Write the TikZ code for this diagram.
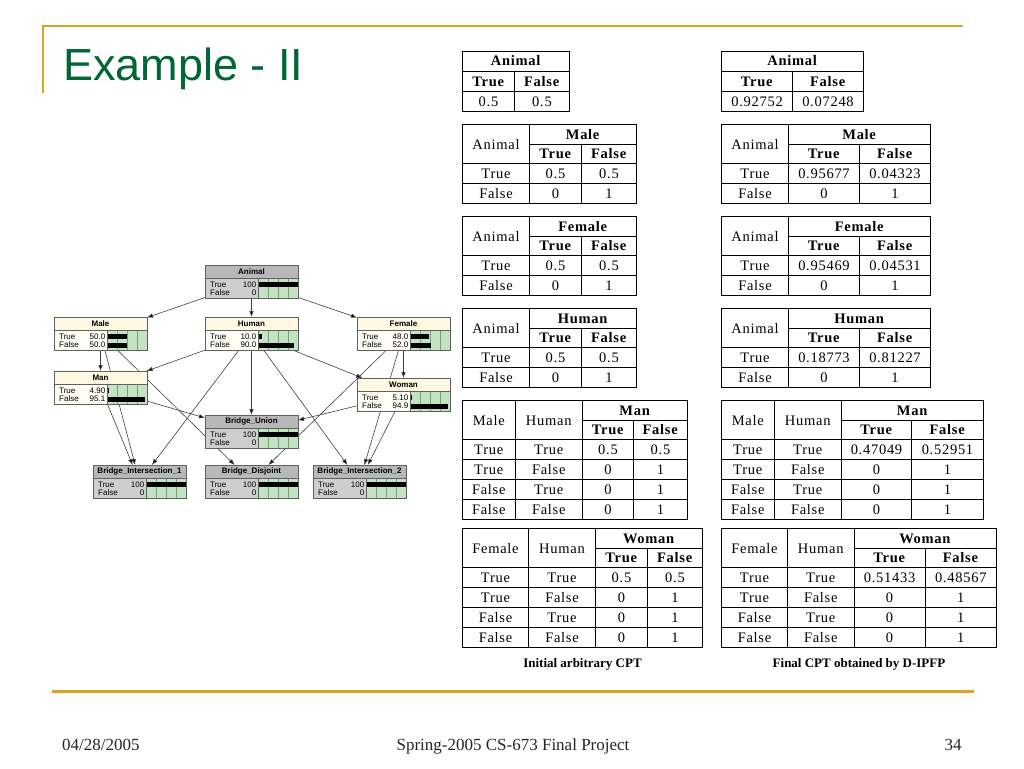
\documentclass[tikz,border=0pt]{standalone}
\usepackage{fontspec}
\setmainfont{Liberation Serif}
\setsansfont{Liberation Sans}
\newfontfamily\cptfont[LetterSpace=5]{Liberation Serif}
\usepackage{array}
\usetikzlibrary{arrows.meta,positioning,backgrounds}

\definecolor{slidegold}{RGB}{218,165,32}
\definecolor{slidegreen}{RGB}{0,102,51}
\definecolor{headev}{RGB}{184,184,184}
\definecolor{bodyev}{RGB}{206,206,206}
\definecolor{headpl}{RGB}{255,249,228}
\definecolor{bodypl}{RGB}{254,253,243}
\definecolor{cellgreen}{RGB}{196,226,196}
\definecolor{cellline}{RGB}{120,158,120}
\definecolor{bnedge}{RGB}{96,96,96}

% table rows: 19pt + rule
\setlength{\tabcolsep}{0pt}
\setlength{\arrayrulewidth}{1pt}
\newcommand{\rs}{\rule[-5pt]{0pt}{19pt}}
\newcolumntype{C}[1]{>{\rs}w{c}{#1}}
\newcommand{\tworows}[1]{\raisebox{-10pt}[0pt][0pt]{#1}}

% inside of a netica node: #1 node, #2 ev/pl, #3 title, #4 #5 values, #6 #7 bars
\newcommand{\bnparts}[7]{%
\begin{scope}[shift={(#1.north west)}]
  \fill[head#2] (0,0) rectangle (93,13);
  \fill[cellgreen] (53,13) rectangle (93,33);
  \foreach \cx in {63,73,83} \draw[cellline, line width=0.5pt] (\cx,13) -- (\cx,33);
  \fill[black] (53,16.5) rectangle ++(#6*40,5);
  \fill[black] (53,25.5) rectangle ++(#7*40,5);
  \draw[bnline] (0,13) -- (93,13) (53,13) -- (53,33) (0,0) rectangle (93,33);
  \node[bntitle] (#1-title) at (46.5,6.5) {#3};
  \node[bnstate, anchor=west] (#1-tl) at (5,19.5) {True};
  \node[bnstate, anchor=west] (#1-fl) at (5,28) {False};
  \node[bnstate, anchor=east] (#1-tv) at (51.5,19.5) {#4};
  \node[bnstate, anchor=east] (#1-fv) at (51.5,28) {#5};
\end{scope}}

\begin{document}
\begin{tikzpicture}[x=1pt,y=-1pt,>={Latex[length=6pt,width=4.5pt]},
bnbox/.style={rectangle,minimum width=93pt,minimum height=33pt,inner sep=0pt,outer sep=0pt},
bnline/.style={draw=bnedge,line width=0.6pt},
bntitle/.style={inner sep=0pt,font=\sffamily\bfseries\fontsize{8}{9}\selectfont},
bnstate/.style={inner sep=0pt,font=\sffamily\fontsize{8}{9}\selectfont},
bnarrow/.style={draw=black!75,line width=0.6pt},
cpt/.style={inner sep=0pt,outer sep=0pt,font=\cptfont\fontsize{14.5}{14.5}\selectfont},
caption/.style={inner sep=0pt,font=\bfseries\fontsize{13}{15}\selectfont},
footer/.style={inner sep=0pt,text=black!85,font=\fontsize{17}{20}\selectfont}
]
\useasboundingbox (0,0) rectangle (1024,768);

% slide frame
\draw[slidegold,line width=2pt] (963,25.7) -- (42.7,25.7) -- (42.7,93);
\draw[slidegold,line width=3pt] (52,691) -- (974,691);
\node[anchor=base west,inner sep=0pt,text=slidegreen,font=\sffamily\fontsize{45}{54}\selectfont] (title) at (63,81) {Example - II};
\node[footer,anchor=base west] (date) at (62,750) {04/28/2005};
\node[footer,anchor=base] (course) at (513,750) {Spring-2005 CS-673 Final Project};
\node[footer,anchor=base] (pageno) at (953,750) {34};

% network
\node[bnbox,fill=bodyev] (Animal) at (251.5,281.5) {};
\node[bnbox,fill=bodypl] (Human) [below=19pt of Animal] {};
\node[bnbox,fill=bodypl] (Male) [left=58pt of Human] {};
\node[bnbox,fill=bodypl] (Female) [right=59pt of Human] {};
\node[bnbox,fill=bodypl] (Man) [below=21pt of Male] {};
\node[bnbox,fill=bodypl] (Woman) [below=28pt of Female] {};
\node[bnbox,fill=bodyev] (BridgeUnion) [below=65pt of Human] {};
\node[bnbox,fill=bodyev] (BridgeDisj) [below=17pt of BridgeUnion] {};
\node[bnbox,fill=bodyev] (BridgeInt1) [left=19pt of BridgeDisj] {};
\node[bnbox,fill=bodyev] (BridgeInt2) [right=15pt of BridgeDisj] {};

\bnparts{Animal}{ev}{Animal}{100}{0}{1}{0}
\bnparts{Male}{pl}{Male}{50.0}{50.0}{0.5}{0.5}
\bnparts{Human}{pl}{Human}{10.0}{90.0}{0.1}{0.9}
\bnparts{Female}{pl}{Female}{48.0}{52.0}{0.48}{0.52}
\bnparts{Man}{pl}{Man}{4.90}{95.1}{0.049}{0.951}
\bnparts{Woman}{pl}{Woman}{5.10}{94.9}{0.051}{0.949}
\bnparts{BridgeUnion}{ev}{Bridge\_Union}{100}{0}{1}{0}
\bnparts{BridgeDisj}{ev}{Bridge\_Disjoint}{100}{0}{1}{0}
\bnparts{BridgeInt1}{ev}{Bridge\_Intersection\_1}{100}{0}{1}{0}
\bnparts{BridgeInt2}{ev}{Bridge\_Intersection\_2}{100}{0}{1}{0}

\begin{scope}[on background layer]
\fill[white] (0,0) rectangle (1024,768);
\path[->,bnarrow]
     (Animal) edge (Male)
              edge (Human)
              edge (Female)
     (Male) edge (Man)
            edge (BridgeInt1)
            edge (BridgeDisj)
     (Human) edge (Man)
             edge (Woman)
             edge (BridgeUnion)
             edge (BridgeInt1)
             edge (BridgeInt2)
     (Female) edge (Woman)
              edge (BridgeDisj)
              edge (BridgeInt2)
     (Man) edge (BridgeUnion)
           edge (BridgeInt1)
     (Woman) edge (BridgeUnion)
             edge (BridgeInt2)
    ;
\end{scope}

% initial CPTs
\node[cpt,anchor=north west] (cptAnimalI) at (462,51) {%
\begin{tabular}{|C{51pt}|C{54pt}|}\hline
\multicolumn{2}{|c|}{\rs\textbf{Animal}}\\ \hline
\textbf{True} & \textbf{False}\\ \hline
0.5 & 0.5\\ \hline
\end{tabular}};
\node[cpt,below=12pt of cptAnimalI.south west,anchor=north west] (cptMaleI) {%
\begin{tabular}{|C{66pt}|C{51pt}|C{54pt}|}\hline
\tworows{Animal} & \multicolumn{2}{c|}{\textbf{Male}}\\ \cline{2-3}
 & \textbf{True} & \textbf{False}\\ \hline
True & 0.5 & 0.5\\ \hline
False & 0 & 1\\ \hline
\end{tabular}};
\node[cpt,below=12pt of cptMaleI.south west,anchor=north west] (cptFemaleI) {%
\begin{tabular}{|C{66pt}|C{51pt}|C{54pt}|}\hline
\tworows{Animal} & \multicolumn{2}{c|}{\textbf{Female}}\\ \cline{2-3}
 & \textbf{True} & \textbf{False}\\ \hline
True & 0.5 & 0.5\\ \hline
False & 0 & 1\\ \hline
\end{tabular}};
\node[cpt,below=12pt of cptFemaleI.south west,anchor=north west] (cptHumanI) {%
\begin{tabular}{|C{66pt}|C{51pt}|C{54pt}|}\hline
\tworows{Animal} & \multicolumn{2}{c|}{\textbf{Human}}\\ \cline{2-3}
 & \textbf{True} & \textbf{False}\\ \hline
True & 0.5 & 0.5\\ \hline
False & 0 & 1\\ \hline
\end{tabular}};
\node[cpt,below=12pt of cptHumanI.south west,anchor=north west] (cptManI) {%
\begin{tabular}{|C{51.5pt}|C{66.5pt}|C{50pt}|C{53pt}|}\hline
\tworows{Male} & \tworows{Human} & \multicolumn{2}{c|}{\textbf{Man}}\\ \cline{3-4}
 & & \textbf{True} & \textbf{False}\\ \hline
True & True & 0.5 & 0.5\\ \hline
True & False & 0 & 1\\ \hline
False & True & 0 & 1\\ \hline
False & False & 0 & 1\\ \hline
\end{tabular}};
\node[cpt,below=8pt of cptManI.south west,anchor=north west] (cptWomanI) {%
\begin{tabular}{|C{65pt}|C{66pt}|C{51pt}|C{54pt}|}\hline
\tworows{Female} & \tworows{Human} & \multicolumn{2}{c|}{\textbf{Woman}}\\ \cline{3-4}
 & & \textbf{True} & \textbf{False}\\ \hline
True & True & 0.5 & 0.5\\ \hline
True & False & 0 & 1\\ \hline
False & True & 0 & 1\\ \hline
False & False & 0 & 1\\ \hline
\end{tabular}};
\node[caption,below=10pt of cptWomanI] (capInit) {Initial arbitrary CPT};

% final CPTs
\node[cpt,anchor=north west] (cptAnimalF) at (721,51) {%
\begin{tabular}{|C{70pt}|C{70pt}|}\hline
\multicolumn{2}{|c|}{\rs\textbf{Animal}}\\ \hline
\textbf{True} & \textbf{False}\\ \hline
0.92752 & 0.07248\\ \hline
\end{tabular}};
\node[cpt,below=12pt of cptAnimalF.south west,anchor=north west] (cptMaleF) {%
\begin{tabular}{|C{66pt}|C{70pt}|C{70pt}|}\hline
\tworows{Animal} & \multicolumn{2}{c|}{\textbf{Male}}\\ \cline{2-3}
 & \textbf{True} & \textbf{False}\\ \hline
True & 0.95677 & 0.04323\\ \hline
False & 0 & 1\\ \hline
\end{tabular}};
\node[cpt,below=12pt of cptMaleF.south west,anchor=north west] (cptFemaleF) {%
\begin{tabular}{|C{66pt}|C{70pt}|C{70pt}|}\hline
\tworows{Animal} & \multicolumn{2}{c|}{\textbf{Female}}\\ \cline{2-3}
 & \textbf{True} & \textbf{False}\\ \hline
True & 0.95469 & 0.04531\\ \hline
False & 0 & 1\\ \hline
\end{tabular}};
\node[cpt,below=12pt of cptFemaleF.south west,anchor=north west] (cptHumanF) {%
\begin{tabular}{|C{66pt}|C{70pt}|C{70pt}|}\hline
\tworows{Animal} & \multicolumn{2}{c|}{\textbf{Human}}\\ \cline{2-3}
 & \textbf{True} & \textbf{False}\\ \hline
True & 0.18773 & 0.81227\\ \hline
False & 0 & 1\\ \hline
\end{tabular}};
\node[cpt,below=12pt of cptHumanF.south west,anchor=north west] (cptManF) {%
\begin{tabular}{|C{51.5pt}|C{66.5pt}|C{69pt}|C{71pt}|}\hline
\tworows{Male} & \tworows{Human} & \multicolumn{2}{c|}{\textbf{Man}}\\ \cline{3-4}
 & & \textbf{True} & \textbf{False}\\ \hline
True & True & 0.47049 & 0.52951\\ \hline
True & False & 0 & 1\\ \hline
False & True & 0 & 1\\ \hline
False & False & 0 & 1\\ \hline
\end{tabular}};
\node[cpt,below=8pt of cptManF.south west,anchor=north west] (cptWomanF) {%
\begin{tabular}{|C{65pt}|C{65.5pt}|C{70pt}|C{70.5pt}|}\hline
\tworows{Female} & \tworows{Human} & \multicolumn{2}{c|}{\textbf{Woman}}\\ \cline{3-4}
 & & \textbf{True} & \textbf{False}\\ \hline
True & True & 0.51433 & 0.48567\\ \hline
True & False & 0 & 1\\ \hline
False & True & 0 & 1\\ \hline
False & False & 0 & 1\\ \hline
\end{tabular}};
\node[caption,below=10pt of cptWomanF] (capFinal) {Final CPT obtained by D-IPFP};
\end{tikzpicture}
\end{document}
